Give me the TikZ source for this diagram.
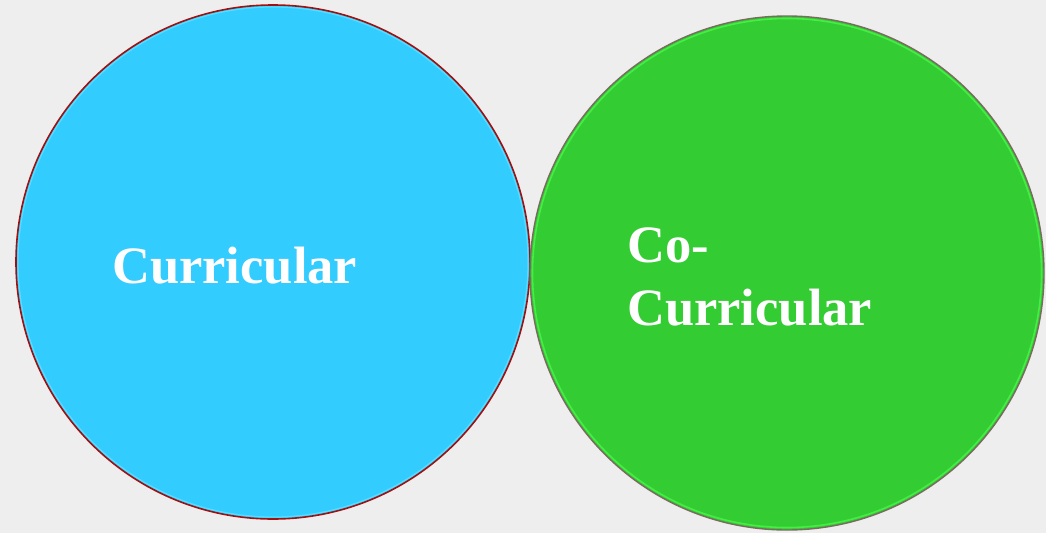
\documentclass[tikz,border=0pt]{standalone}
\usepackage{fontspec}
\setmainfont{Liberation Serif}
\definecolor{bg}{HTML}{EEEEEE}
\definecolor{blueC}{HTML}{33CCFF}
\definecolor{greenC}{HTML}{33CC33}
\definecolor{redB}{HTML}{A01010}
\definecolor{grayB}{HTML}{7A6A60}
\definecolor{glowG}{HTML}{44EE44}
\definecolor{glowB}{HTML}{55DDFF}
\tikzset{
  disc/.style={circle, inner sep=0pt, minimum size=514pt},
  lbl/.style={text=white, font=\fontsize{52.5}{62}\selectfont\bfseries, inner sep=0pt, anchor=base west, align=left}
}
\begin{document}
\begin{tikzpicture}[x=1pt,y=-1pt]
\fill[bg] (0,0) rectangle (1046,533);
\useasboundingbox (0,0) rectangle (1046,533);
\node[disc, fill=blueC, draw=redB, line width=1.6pt] (left) at (273,262) {};
\node[disc, draw=glowB, line width=1.2pt, minimum size=510pt] (leftglow) at (273,262) {};
\node[disc, fill=greenC, draw=grayB, line width=1.4pt] (right) at (787,273) {};
\node[disc, draw=glowG, line width=1.6pt, minimum size=509pt] (rightglow) at (787,273) {};
\node[lbl] (t1) at (112,283) {Curricular};
\node[lbl] (t2) at (627,262) {Co-};
\node[lbl] (t3) at (627,325) {Curricular};
\end{tikzpicture}
\end{document}
